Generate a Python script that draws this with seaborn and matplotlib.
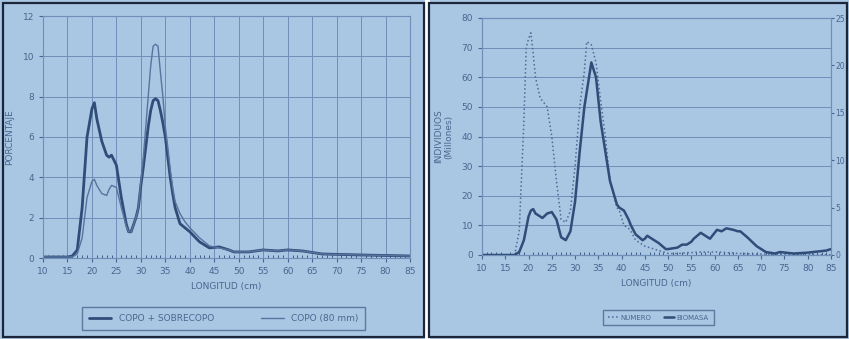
import numpy as np
import pandas as pd
import matplotlib
matplotlib.use('Agg')
import matplotlib.pyplot as plt
import seaborn as sns
from matplotlib.patches import Rectangle

# Left chart: length distribution (%)
long_left = [10, 15, 16, 17, 18, 19, 20, 20.5, 21, 22, 23, 23.5, 24, 25, 26, 27, 27.5, 28, 29, 29.5,
             30, 30.5, 31, 31.5, 32, 32.5, 33, 33.5, 34, 34.5, 35, 35.5, 36, 36.5, 37, 38, 39, 40,
             42, 44, 46, 48, 49, 52, 55, 58, 60, 63, 67, 75, 85]
copo_sobrecopo = [0.05, 0.05, 0.1, 0.4, 2.5, 6.0, 7.4, 7.7, 6.9, 5.8, 5.1, 5.0, 5.1, 4.6, 3.0, 1.7, 1.3, 1.3, 2.0, 2.5,
                  3.6, 4.5, 5.5, 6.5, 7.3, 7.8, 7.9, 7.8, 7.3, 6.7, 6.0, 5.0, 4.0, 3.2, 2.5, 1.7, 1.5, 1.3,
                  0.8, 0.5, 0.55, 0.4, 0.3, 0.3, 0.4, 0.35, 0.4, 0.35, 0.2, 0.15, 0.1]
copo_80 = [0.05, 0.05, 0.05, 0.2, 1.0, 3.0, 3.8, 3.9, 3.6, 3.2, 3.1, 3.4, 3.6, 3.5, 2.5, 1.6, 1.3, 1.3, 2.0, 2.5,
           3.8, 5.0, 6.5, 8.0, 9.5, 10.5, 10.6, 10.5, 9.2, 8.0, 6.5, 5.5, 4.4, 3.5, 2.8, 2.2, 1.8, 1.5,
           1.0, 0.6, 0.5, 0.4, 0.3, 0.3, 0.4, 0.35, 0.4, 0.35, 0.2, 0.15, 0.1]

# Right chart: numbers (millions, left axis) and biomass (right axis)
long_right = [10, 17, 18, 19, 19.5, 20, 20.5, 21, 21.5, 22.5, 23, 24, 25, 26, 27, 28, 29, 30, 31, 32,
              32.5, 33.5, 34.5, 35.5, 36.5, 37.5, 39, 39.5, 40.5, 41.5, 42, 43, 44.5, 45, 45.5, 46, 47,
              48, 49.5, 50, 52, 53, 54, 55, 55.5, 57, 58, 59, 60, 60.5, 61.5, 62.5, 64, 65, 65.5, 67,
              69, 70, 71, 73, 74, 77, 80, 84, 85]
numero = [0, 0, 8, 45, 70, 73, 75, 68, 60, 53, 52, 50, 40, 25, 12, 11, 15, 30, 50, 62,
          72, 71, 65, 52, 40, 25, 16, 15, 10, 9, 8, 5, 3.5, 3, 2.7, 2.5, 2,
          1.5, 0.8, 0.5, 0.5, 0.6, 0.8, 0.8, 0.9, 1, 1, 1, 1, 1, 0.9, 0.8, 0.7, 0.5, 0.5, 0.4,
          0.3, 0.3, 0.3, 0.2, 0.2, 0.2, 0.2, 0.1, 0]
biomasa_m = [0, 0, 1, 5, 9, 13, 15, 15.5, 14, 13, 12.5, 14, 14.5, 12, 6, 5, 8, 18, 35, 50,
             55, 65, 60, 45, 35, 25, 17, 16, 15, 12, 10, 7, 5, 5.5, 6.5, 6, 5,
             4, 2, 2, 2.5, 3.5, 3.5, 4.5, 5.5, 7.5, 6.5, 5.5, 7.5, 8.5, 8, 9, 8.5, 8, 8, 6,
             3, 2, 1, 0.5, 1, 0.5, 0.8, 1.5, 2]
biomasa = [v * 25 / 80 for v in biomasa_m]

sns.set_style('ticks')
plt.rcParams['font.family'] = ['DejaVu Sans']

bg = '#a9c6e3'
ink = '#2f4d78'
txt = '#4a6690'
gridc = '#6f8fb8'

fig = plt.figure(figsize=(8.49, 3.39), dpi=100)
fig.patch.set_facecolor(bg)

W, H = 849, 339

def fr(x0, y0, x1, y1):
    return [x0 / W, 1 - y1 / H, (x1 - x0) / W, (y1 - y0) / H]

# panel frames
fig.patches.append(Rectangle((424.5 / W, 0), 5 / W, 1, transform=fig.transFigure,
                             facecolor='white', edgecolor='none'))
for x0, x1 in [(3, 424), (429, 847)]:
    fig.patches.append(Rectangle((x0 / W, 2 / H), (x1 - x0) / W, (H - 5) / H,
                                 transform=fig.transFigure, fill=False,
                                 edgecolor='#1c2638', linewidth=1.6))

# ---------------- left chart ----------------
df_l = pd.DataFrame({'LONGITUD': long_left * 2,
                     'valor': copo_sobrecopo + copo_80,
                     'serie': ['COPO + SOBRECOPO'] * len(long_left) + ['COPO (80 mm)'] * len(long_left)})
ax1 = fig.add_axes(fr(43, 16, 410, 258))
ax1.set_facecolor(bg)
sns.lineplot(data=df_l, x='LONGITUD', y='valor', hue='serie', size='serie',
             sizes={'COPO + SOBRECOPO': 2.0, 'COPO (80 mm)': 1.0},
             palette={'COPO + SOBRECOPO': ink, 'COPO (80 mm)': '#56749e'},
             ax=ax1, legend=True)
ax1.set_xlim(10, 85)
ax1.set_ylim(0, 12)
ax1.set_xticks(range(10, 86, 5))
ax1.set_xticks(range(10, 86, 1), minor=True)
ax1.set_yticks(range(0, 13, 2))
ax1.grid(True, which='major', color=gridc, linewidth=0.7)
ax1.set_xlabel('LONGITUD (cm)', fontsize=6.5, color=txt, labelpad=4)
ax1.set_ylabel('PORCENTAJE', fontsize=6.5, color=txt, labelpad=6)
ax1.tick_params(axis='both', which='major', labelsize=6.5, colors=txt, length=3, direction='out')
ax1.tick_params(axis='x', which='minor', length=2, direction='in', color=ink)
for s in ax1.spines.values():
    s.set_color(gridc)
    s.set_linewidth(0.8)
h, l = ax1.get_legend_handles_labels()
ax1.legend(h, l, loc='center', bbox_to_anchor=(77 / W, 1 - 332 / H, 293 / W, 27 / H),
           bbox_transform=fig.transFigure, mode='expand', ncol=2, fontsize=6.5,
           frameon=True, fancybox=False, edgecolor=txt, facecolor=bg,
           labelcolor=txt, handlelength=2.5, borderpad=0.8)

# ---------------- right chart ----------------
ax2 = fig.add_axes(fr(482, 18, 831, 255))
ax2.set_facecolor(bg)
ax3 = ax2.twinx()
df_n = pd.DataFrame({'LONGITUD': long_right, 'NUMERO': numero})
df_b = pd.DataFrame({'LONGITUD': long_right, 'BIOMASA': biomasa})
sns.lineplot(data=df_n, x='LONGITUD', y='NUMERO', ax=ax2, color='#4d6b96',
             linewidth=1.1, linestyle=':', label='NUMERO', legend=False)
sns.lineplot(data=df_b, x='LONGITUD', y='BIOMASA', ax=ax3, color=ink,
             linewidth=1.8, label='BIOMASA', legend=False)
ax2.set_xlim(10, 85)
ax2.set_ylim(0, 80)
ax3.set_ylim(0, 25)
ax2.set_xticks(range(10, 86, 5))
ax2.set_xticks(range(10, 86, 1), minor=True)
ax2.set_yticks(range(0, 81, 10))
ax3.set_yticks(range(0, 26, 5))
ax2.grid(True, axis='y', color=gridc, linewidth=0.7)
ax2.set_xlabel('LONGITUD (cm)', fontsize=6.5, color=txt, labelpad=4)
ax2.set_ylabel('INDIVIDUOS\n(Millones)', fontsize=6.5, color=txt, labelpad=6)
ax3.set_ylabel('')
ax2.tick_params(axis='both', which='major', labelsize=6.5, colors=txt, length=3, direction='out')
ax2.tick_params(axis='x', which='minor', length=2, direction='in', color=ink)
ax3.tick_params(axis='y', labelsize=5.5, colors=txt, length=2, pad=1, direction='out')
for a in (ax2, ax3):
    for s in a.spines.values():
        s.set_color(gridc)
        s.set_linewidth(0.8)
h2, l2 = ax2.get_legend_handles_labels()
h3, l3 = ax3.get_legend_handles_labels()
ax3.legend(h2 + h3, l2 + l3, loc='center', bbox_to_anchor=(600 / W, 1 - 329 / H, 117 / W, 23 / H),
           bbox_transform=fig.transFigure, mode='expand', ncol=2, fontsize=5,
           frameon=True, fancybox=False, edgecolor=txt, facecolor=bg,
           labelcolor=txt, handlelength=1.5, borderpad=0.7, columnspacing=0.6, handletextpad=0.3)

fig.savefig('out.png', dpi=100, facecolor=bg)
